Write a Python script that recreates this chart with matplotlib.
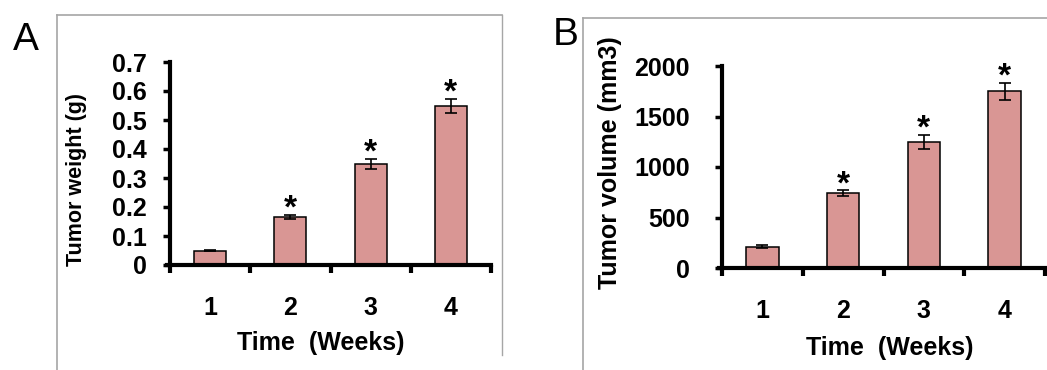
import matplotlib
matplotlib.use("Agg")
import matplotlib.pyplot as plt
from matplotlib.lines import Line2D

plt.rcParams['font.family'] = ['Liberation Sans', 'DejaVu Sans']

weeks = [1, 2, 3, 4]
weight = [0.05, 0.165, 0.348, 0.548]
weight_err = [0.002, 0.008, 0.018, 0.025]
weight_sig = [False, True, True, True]
volume = [210, 740, 1250, 1750]
volume_err = [15, 30, 70, 82]
volume_sig = [False, True, True, True]
weight_ticks = [0, 0.1, 0.2, 0.3, 0.4, 0.5, 0.6, 0.7]
weight_ticklabels = ['0', '0.1', '0.2', '0.3', '0.4', '0.5', '0.6', '0.7']
volume_ticks = [0, 500, 1000, 1500, 2000]

bar_color = '#d99694'
W, H = 1047, 370

fig = plt.figure(figsize=(W / 100, H / 100), dpi=100)


def px_axes(l, r, b, t):
    return fig.add_axes([l / W, 1 - b / H, (r - l) / W, (b - t) / H])


def draw_panel(ax, vals, errs, sig, ymax, yticks, yticklabels, star_off, ypad):
    ax.bar(weeks, vals, width=0.4, color=bar_color, edgecolor='black', linewidth=1.1, zorder=2)
    ax.errorbar(weeks, vals, yerr=errs, fmt='none', ecolor='black', elinewidth=1.2,
                capsize=4.5, capthick=1.2, zorder=3)
    for x, v, e, s in zip(weeks, vals, errs, sig):
        if s:
            ax.annotate('*', xy=(x, v + e), xytext=(0, star_off), textcoords='offset points',
                        ha='center', va='center', fontsize=24, fontweight='bold')
    ax.set_xlim(0.5, 4.5)
    ax.set_ylim(0, ymax)
    for sp in ['top', 'right']:
        ax.spines[sp].set_visible(False)
    for sp in ['left', 'bottom']:
        ax.spines[sp].set_linewidth(3.0)
    ax.spines['bottom'].set_bounds(0.46, 4.5)
    ax.set_xticks([0.5, 1.5, 2.5, 3.5, 4.5])
    ax.set_xticklabels([])
    ax.set_xticks(weeks, minor=True)
    ax.set_xticklabels([str(w) for w in weeks], minor=True, fontsize=18, fontweight='bold')
    ax.tick_params(axis='x', which='major', length=6, width=3, direction='out')
    ax.tick_params(axis='x', which='minor', length=0, pad=22)
    ax.set_yticks(yticks)
    ax.set_yticklabels(yticklabels, fontsize=18, fontweight='bold')
    ax.tick_params(axis='y', length=5, width=2.5, direction='out', pad=ypad)
    ax.set_facecolor('none')


# panel frames
frame_col = '#a6a6a6'
fig.add_artist(Line2D([57 / W, 502 / W], [1 - 15 / H, 1 - 15 / H], color=frame_col, lw=1.2))
fig.add_artist(Line2D([57 / W, 57 / W], [1 - 15 / H, 0], color=frame_col, lw=1.2))
fig.add_artist(Line2D([502 / W, 502 / W], [1 - 15 / H, 0.04], color=frame_col, lw=1.0))
fig.add_artist(Line2D([583 / W, 1], [1 - 18 / H, 1 - 18 / H], color=frame_col, lw=1.2))
fig.add_artist(Line2D([583 / W, 583 / W], [1 - 18 / H, 0], color=frame_col, lw=1.2))

axA = px_axes(170, 491, 265, 62)
draw_panel(axA, weight, weight_err, weight_sig, 0.7, weight_ticks, weight_ticklabels, 4, 12)
axA.set_ylabel('Tumor weight (g)', fontsize=15.5, fontweight='bold', va='center')
axA.yaxis.set_label_coords(-0.29, 0.42)
axA.set_xlabel('Time  (Weeks)', fontsize=18, fontweight='bold', va='center')
axA.xaxis.set_label_coords(0.47, -0.384)

axB = px_axes(722, 1045, 268, 66)
draw_panel(axB, volume, volume_err, volume_sig, 2000, volume_ticks,
           [str(t) for t in volume_ticks], 4, 18)
axB.set_ylabel('Tumor volume (mm3)', fontsize=18, fontweight='bold', va='center')
axB.yaxis.set_label_coords(-0.347, 0.52)
axB.set_xlabel('Time  (Weeks)', fontsize=18, fontweight='bold', va='center')
axB.xaxis.set_label_coords(0.52, -0.396)

fig.text(26 / W, 1 - 40 / H, 'A', fontsize=28, ha='center', va='center')
fig.text(566 / W, 1 - 35 / H, 'B', fontsize=28, ha='center', va='center')

fig.savefig('out.png', dpi=100)
